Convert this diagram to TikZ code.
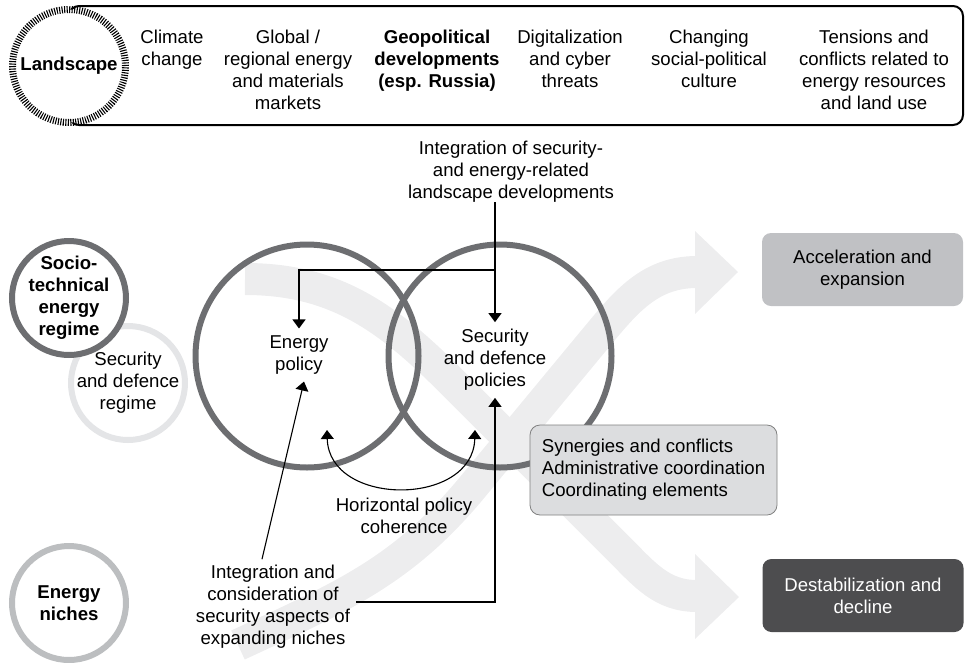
\documentclass[tikz,border=0pt]{standalone}
\usepackage{fontspec}
\setmainfont{Liberation Sans}
\usepackage{tikz}
\usetikzlibrary{arrows.meta}
\definecolor{ringdark}{RGB}{109,110,113}
\definecolor{ringmid}{RGB}{188,190,192}
\definecolor{ringlight}{RGB}{228,229,231}
\definecolor{bandgray}{RGB}{237,237,238}
\definecolor{boxlight}{RGB}{220,221,223}
\definecolor{boxmid}{RGB}{192,193,196}
\definecolor{boxdark}{RGB}{77,77,79}
\newcommand\diafont{\fontsize{18.6}{22}\selectfont}
\def\destband{(245,279) to[out=0,in=135] (450,380) -- (620,550) to[out=-45,in=180] (697,596)}
\def\accelband{(238,645) to[out=25,in=-130] (470,490) -- (590,345) to[out=50,in=180] (697,272)}

\begin{document}
\begin{tikzpicture}[x=1pt,y=-1pt,font=\diafont,
    >={Triangle[width=13pt,length=9pt]},
    ring/.style={circle,line width=6pt,fill=white,minimum size=114pt,inner sep=-3pt,align=center},
    bigring/.style={circle,draw=ringdark,line width=6pt,minimum size=223pt},
    txt/.style={align=center,inner sep=0pt},
    conn/.style={->,line width=1.1pt},
    outcome/.style={rounded corners=9pt,minimum width=201pt,minimum height=73pt,align=center}]
   \useasboundingbox (0,0) rectangle (966,662);
   % background arrows
   \draw[bandgray,line width=32pt] \destband;
   \fill[bandgray] (695,554) -- (739,597) -- (695,639) -- cycle;
   \draw[bandgray,line width=32pt] \accelband;
   \fill[bandgray] (695,231) -- (738,272) -- (695,314) -- cycle;
   % landscape level
   \draw[line width=2pt,rounded corners=10pt] (69,6) rectangle (963,125);
   \node[ring,draw,line width=7pt,dash pattern=on 1.1pt off 1.4pt,minimum size=113pt,font=\diafont\bfseries] (land) at (69,66) {Landscape};
   \node[txt,anchor=north] (clim) at (172,29.4) {Climate\\change};
   \node[txt,anchor=north] (glob) at (288,29.4) {Global /\\regional energy\\and materials\\markets};
   \node[txt,anchor=north,font=\diafont\bfseries] (geo) at (437,29.4) {Geopolitical\\developments\\(esp. Russia)};
   \node[txt,anchor=north] (digi) at (570,29.4) {Digitalization\\and cyber\\threats};
   \node[txt,anchor=north] (chg) at (709,29.4) {Changing\\social-political\\culture};
   \node[txt,anchor=north] (tens) at (874,29.4) {Tensions and\\conflicts related to\\energy resources\\and land use};
   % regime and niches
   \node[ring,draw=ringlight] (secreg) at (128,383) {Security\\and defence\\regime};
   \node[ring,draw=ringdark,font=\diafont\bfseries] (socio) at (69,298) {Socio-\\technical\\energy\\regime};
   \node[ring,draw=ringmid,font=\diafont\bfseries] (niche) at (69,603) {Energy\\niches};
   % policy fields
   \node[bigring] (epring) at (307,356) {};
   \node[bigring] (sdring) at (500,356) {};
   \node[txt,inner sep=7pt] (ep) at (299,355) {Energy\\policy};
   \node[txt,inner sep=7pt] (sd) at (495,360) {Security\\and defence\\policies};
   \node[txt,anchor=north] (intland) at (511,140.4) {Integration of security-\\and energy-related\\landscape developments};
   \node[txt,inner sep=6pt] (intniche) at (273,607) {Integration and\\consideration of\\security aspects of\\expanding niches};
   \node[txt] (hpc) at (404,516) {Horizontal policy\\coherence};
   \coordinate (split) at (495,270);
   \coordinate (hpl) at (327,430);
   \coordinate (hpr) at (475,430);
   \draw[conn] (sd.north |- intland.south) -- (sd.north);
   \draw[conn] (split) -| (ep.north);
   \draw[conn] ([xshift=-11pt]intniche.north) -- ([xshift=5pt]ep.south);
   \draw[conn] ([yshift=5pt]intniche.east) -| (sd.south);
   \draw[conn,<->] (hpl) .. controls (329,507) and (473,507) .. (hpr);
   % coordination and outcomes
   \node[fill=boxlight,draw=gray,line width=0.8pt,rounded corners=10pt,minimum width=247pt,minimum height=90pt,align=left] (syn) at (653.5,470) {Synergies and conflicts\\Administrative coordination\\Coordinating elements};
   \node[outcome,fill=boxmid] (accel) at (862.5,269.5) {Acceleration and\\expansion};
   \node[outcome,fill=boxdark,text=white] (destab) at (863,595.5) {Destabilization and\\decline};
\end{tikzpicture}
\end{document}
